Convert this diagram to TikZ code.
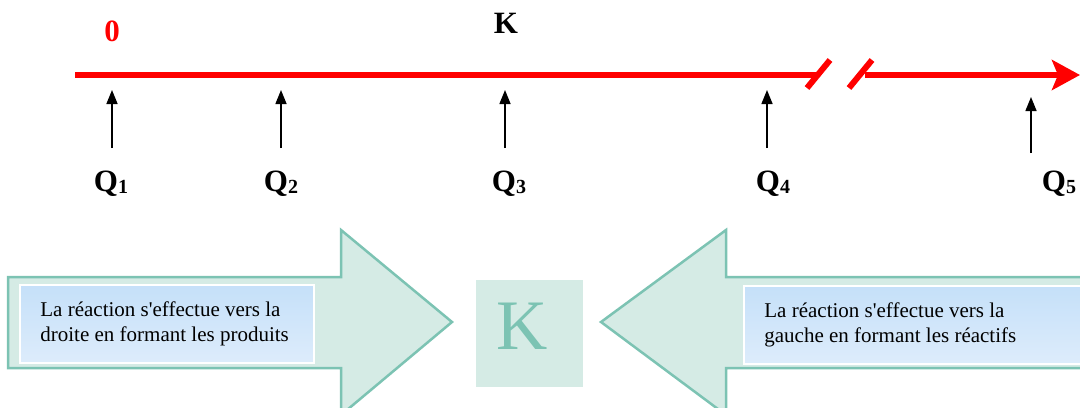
\documentclass[tikz,border=0pt]{standalone}
\usepackage{fontspec}
\setmainfont{Liberation Serif}
\usetikzlibrary{positioning, arrows.meta, calc}
\definecolor{axred}{HTML}{FF0000}
\definecolor{tealfill}{HTML}{D5EBE5}
\definecolor{tealline}{HTML}{7CC3B3}
\definecolor{bluetop}{HTML}{C5E0F9}
\definecolor{bluebot}{HTML}{DDECFB}

\newcommand{\qsub}[1]{Q{\fontsize{10}{10}\selectfont\raisebox{-1pt}{#1}}}

\tikzset{
  redaxis/.style={draw=axred, line width=3pt},
  qarrow/.style={draw=black, line width=0.75pt, -{Triangle[length=7pt,width=5.5pt]}},
  qlab/.style={font=\fontsize{15.5}{18}\selectfont\bfseries, inner sep=0pt},
  bigarrow/.style={draw=tealline, fill=tealfill, line width=1.25pt, line join=miter},
  infobox/.style={draw=white, line width=1pt, top color=bluetop, bottom color=bluebot,
                  minimum height=39pt, anchor=north west, inner sep=0pt},
  infotext/.style={font=\fontsize{10.5}{12.8}\selectfont, align=left, inner sep=0pt, anchor=west}
}

\begin{document}
\begin{tikzpicture}[x=0.5pt, y=-0.5pt]
    \clip (0,0) rectangle (1080,407);

    % axe des Q
    \coordinate (ax0) at (75,75);
    \coordinate (ax1) at (817,75);
    \coordinate (ax2) at (865,75);
    \coordinate (ax3) at (1080,75);
    \draw[redaxis] (ax0) -- (ax1);
    \draw[redaxis, -{Stealth[length=14pt,width=15pt,inset=3pt]}] (ax2) -- (ax3);
    \draw[redaxis] (807,88) -- (830,60);
    \draw[redaxis] (849,88) -- (872,60);

    \node[qlab, text=axred] (zero) at (112,31) {0};
    \node[qlab] (ktop) at (506,23) {K};

    % valeurs de Q
    \node[qlab] (q1) at (111,184) {\qsub{1}};
    \node[qlab] (q2) at (281,184) {\qsub{2}};
    \node[qlab] (q3) at (509,184) {\qsub{3}};
    \node[qlab] (q4) at (773,184) {\qsub{4}};
    \node[qlab] (q5) at (1059,184) {\qsub{5}};

    \coordinate (b1) at (112,148); \coordinate (t1) at (112,90);
    \coordinate (b2) at (281,148); \coordinate (t2) at (281,90);
    \coordinate (b3) at (505,148); \coordinate (t3) at (505,90);
    \coordinate (b4) at (767,148); \coordinate (t4) at (767,90);
    \coordinate (b5) at (1031,153); \coordinate (t5) at (1031,97);
    \draw[qarrow] (b1) -- (t1);
    \draw[qarrow] (b2) -- (t2);
    \draw[qarrow] (b3) -- (t3);
    \draw[qarrow] (b4) -- (t4);
    \draw[qarrow] (b5) -- (t5);

    % grandes fleches
    \draw[bigarrow] (8,277) -- (341,277) -- (341,230) -- (452,322)
                    -- (341,415) -- (341,368) -- (8,368) -- cycle;
    \draw[bigarrow] (1095,277) -- (726,277) -- (726,230) -- (601,322)
                    -- (726,415) -- (726,368) -- (1095,368) -- cycle;

    \node[infobox, minimum width=147pt] (boxl) at (19,284) {};
    \node[infotext, xshift=10.5pt] (txtl) at (boxl.west)
         {La réaction s\textquotesingle effectue vers la\\droite en formant les produits};

    \node[infobox, minimum width=180pt] (boxr) at (743,285) {};
    \node[infotext, xshift=10.5pt] (txtr) at (boxr.west)
         {La réaction s\textquotesingle effectue vers la\\gauche en formant les réactifs};

    % K au centre
    \node[fill=tealfill, minimum size=53.5pt, inner sep=0pt] (kbox) at (529.5,333) {};
    \node[text=tealline, font=\fontsize{35.5}{40}\selectfont, inner sep=0pt] (kmid) at (522,326) {K};
\end{tikzpicture}
\end{document}
